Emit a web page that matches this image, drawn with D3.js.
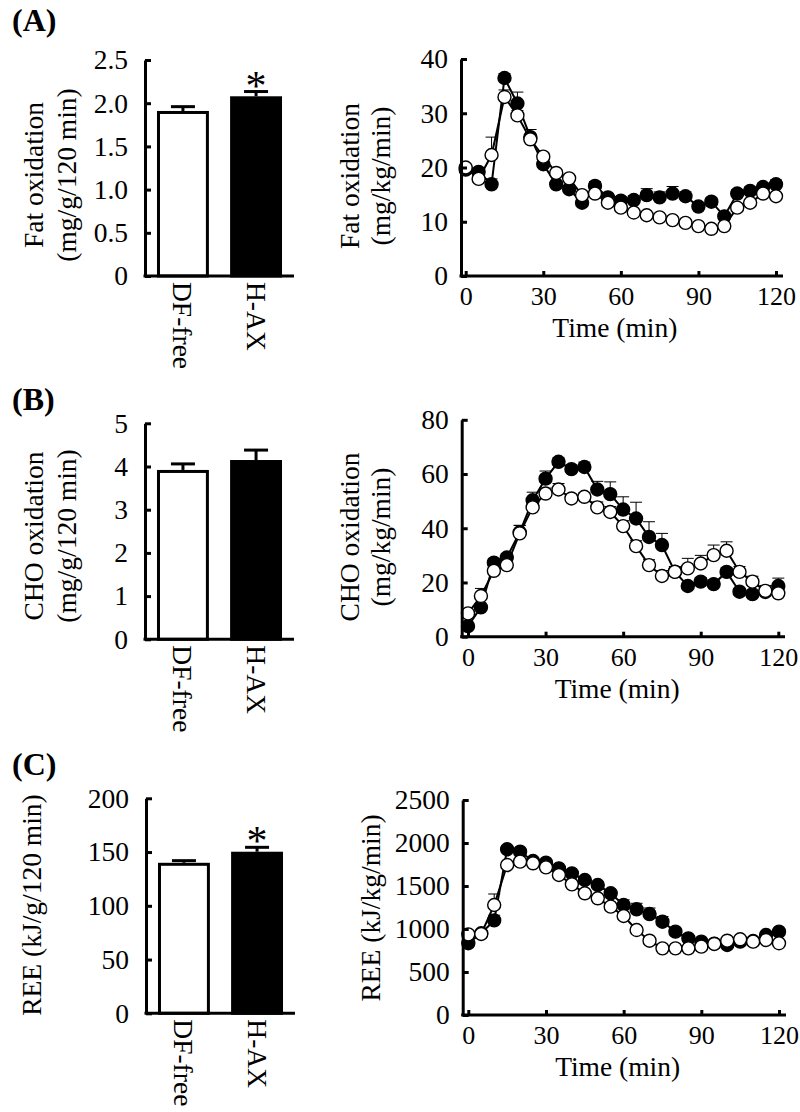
<!DOCTYPE html>
<html><head><meta charset="utf-8">
<script src="https://cdn.jsdelivr.net/npm/d3@7"></script>
<style>
body{margin:0;background:#fff}
svg{display:block}
text{font-family:"Liberation Serif","Times New Roman",serif;fill:#000}
</style>
</head><body><svg id="c" width="800" height="1112"></svg>
<script>
// ---------- data ----------
const groups = ["DF-free", "H-AX"];

const fatTotal = [1.91, 2.08];
const fatTotalErr = [0.05, 0.055];
const fatSig = ["", "*"];
const fatTotalTicks = [0, 0.5, 1.0, 1.5, 2.0, 2.5];
const fatTotalTickLabels = ["0", "0.5", "1.0", "1.5", "2.0", "2.5"];

const choTotal = [3.92, 4.15];
const choTotalErr = [0.14, 0.23];
const choSig = ["", ""];
const choTotalTicks = [0, 1, 2, 3, 4, 5];
const choTotalTickLabels = ["0", "1", "2", "3", "4", "5"];

const reeTotal = [140, 150.3];
const reeTotalErr = [2, 4.1];
const reeSig = ["", "*"];
const reeTotalTicks = [0, 50, 100, 150, 200];
const reeTotalTickLabels = ["0", "50", "100", "150", "200"];

const time = [0,5,10,15,20,25,30,35,40,45,50,55,60,65,70,75,80,85,90,95,100,105,110,115,120];
const timeTicks = [0, 30, 60, 90, 120];

const fatHAX    = [19.6,19.2,16.9,36.5,31.8,25.6,20.6,16.9,16.0,13.5,16.6,14.5,13.9,14.0,14.9,14.5,15.2,14.7,12.8,13.7,11.0,15.2,15.7,16.4,16.9];
const fatHAXErr = [0.6,0.6,1.0,0.8,2.1,1.4,0.7,0.6,0.6,0.5,0.8,0.7,0.7,0.8,1.2,1.0,1.3,0.8,0.7,0.7,0.7,0.7,0.7,0.7,0.8];
const fatDF     = [20.0,17.9,22.3,33.0,29.6,25.2,22.0,19.0,18.0,14.9,15.2,13.5,12.6,11.7,11.2,10.8,10.3,9.8,9.2,8.7,9.2,12.6,13.5,15.2,14.7];
const fatDFErr  = [0.6,0.6,3.3,1.3,0.9,1.8,0.7,0.6,0.6,0.5,0.5,0.5,0.5,0.5,0.5,0.5,0.5,0.5,0.5,0.5,0.5,0.6,0.6,0.6,0.6];
const fatTicks = [0, 10, 20, 30, 40];

const choHAX    = [3.9,10.8,27.3,29.2,38.5,50.3,58.3,64.5,61.8,62.6,54.3,52.6,46.9,43.6,36.8,33.8,24.0,18.7,20.3,19.4,23.9,16.6,15.7,16.5,18.7];
const choHAXErr = [0.5,1.0,1.5,1.5,2.5,3.0,2.8,1.5,1.5,1.8,3.0,4.5,4.7,6.0,5.6,4.3,1.5,1.2,1.5,1.5,1.5,1.2,1.2,1.2,2.9];
const choDF     = [8.6,15.0,24.3,26.4,38.1,47.7,52.8,54.3,51.0,51.6,47.7,46.0,40.8,33.4,26.4,22.4,23.9,25.2,27.0,30.1,31.7,23.9,20.3,16.9,16.0];
const choDFErr  = [0.8,2.8,1.0,1.0,3.0,2.0,2.0,2.2,1.5,1.5,2.0,2.0,2.0,2.0,2.0,2.0,2.0,3.7,3.0,3.7,3.3,2.0,2.0,2.0,1.5];
const choTicks = [0, 20, 40, 60, 80];

const reeHAX    = [834,950,1100,1927,1899,1790,1771,1705,1647,1570,1512,1415,1279,1229,1174,1085,969,891,853,830,814,853,860,930,969];
const reeHAXErr = [30,30,60,40,40,30,30,30,30,30,30,40,60,70,70,60,40,30,30,30,30,30,30,30,30];
const reeDF     = [938,942,1279,1744,1783,1764,1717,1628,1519,1415,1357,1260,1151,988,864,775,775,775,795,826,864,880,853,872,834];
const reeDFErr  = [30,30,128,30,30,30,30,30,30,30,30,30,30,30,30,30,30,30,30,30,30,30,30,30,30];
const reeTicks = [0, 500, 1000, 1500, 2000, 2500];

// ---------- drawing ----------
const svg = d3.select("#c");
svg.append("rect").attr("width", 800).attr("height", 1112).attr("fill", "#fff");
const FS = 27.5;
const TFS = 26;
const FONT = '"Liberation Serif","Times New Roman",serif';

function panelTitle(txt, x, y) {
  svg.append("text").attr("x", x).attr("y", y).attr("font-size", 32)
    .attr("font-weight", "bold").text(txt);
}

function vLabel(lines, xs, cy) {
  lines.forEach((t, i) => {
    svg.append("text")
      .attr("transform", `translate(${xs[i]},${cy}) rotate(-90)`)
      .attr("text-anchor", "middle").attr("font-size", FS).text(t);
  });
}

function styleAxis(g, fs) {
  g.attr("font-family", FONT);
  g.select(".domain").attr("stroke", "#000").attr("stroke-width", 3);
  g.selectAll(".tick line").attr("stroke", "#000").attr("stroke-width", 3);
  g.selectAll(".tick text").attr("font-size", fs)
    .attr("font-family", FONT).attr("fill", "#000");
}

function barChart(cfg) {
  const y = d3.scaleLinear().domain([0, cfg.max]).range([cfg.yBottom, cfg.yTop]);
  const x = d3.scaleBand().domain(groups).range([cfg.axisX, cfg.xEnd])
    .paddingInner(0.29).paddingOuter(0.164);
  const g = svg.append("g");
  g.selectAll("rect.bar").data(groups).join("rect")
    .attr("x", d => x(d) + 1.5)
    .attr("width", x.bandwidth() - 3)
    .attr("y", (d, i) => y(cfg.values[i]) + 1.5)
    .attr("height", (d, i) => y(0) - y(cfg.values[i]) - 1.5)
    .attr("fill", (d, i) => i === 0 ? "#fff" : "#000")
    .attr("stroke", "#000").attr("stroke-width", 3);
  groups.forEach((d, i) => {
    const cx = x(d) + x.bandwidth() / 2;
    const top = y(cfg.values[i] + cfg.errs[i]);
    g.append("line").attr("x1", cx).attr("x2", cx)
      .attr("y1", y(cfg.values[i])).attr("y2", top)
      .attr("stroke", "#000").attr("stroke-width", 3);
    g.append("line").attr("x1", cx - 12).attr("x2", cx + 12)
      .attr("y1", top).attr("y2", top)
      .attr("stroke", "#000").attr("stroke-width", 3);
    if (cfg.sig[i]) {
      g.append("text").attr("x", cx).attr("y", top + 8)
        .attr("text-anchor", "middle").attr("font-size", 42).text(cfg.sig[i]);
    }
    g.append("text")
      .attr("transform", `translate(${cx},${cfg.yBottom + 6}) rotate(90)`)
      .attr("text-anchor", "start").attr("dominant-baseline", "central")
      .attr("font-size", FS).text(d);
  });
  const ax = d3.axisLeft(y).tickValues(cfg.ticks)
    .tickFormat((d, i) => cfg.tickLabels[i]).tickSize(-6).tickSizeOuter(0).tickPadding(17);
  const ga = svg.append("g").attr("transform", `translate(${cfg.axisX},0)`).call(ax);
  styleAxis(ga, FS);
  svg.append("line").attr("x1", cfg.axisX - 1.5).attr("x2", cfg.xEnd)
    .attr("y1", y(0)).attr("y2", y(0)).attr("stroke", "#000").attr("stroke-width", 3);
}

function lineChart(cfg) {
  const x = d3.scaleLinear().domain([0, 120]).range([cfg.xa, cfg.xb]);
  const y = d3.scaleLinear().domain([0, cfg.max]).range([cfg.yBottom, cfg.yTop]);
  const g = svg.append("g");
  const series = [
    {v: cfg.hax, e: cfg.haxErr, fill: "#000"},
    {v: cfg.df, e: cfg.dfErr, fill: "#fff"}
  ];
  series.forEach(s => {
    time.forEach((t, i) => {
      const top = y(s.v[i] + s.e[i]);
      g.append("line").attr("x1", x(t)).attr("x2", x(t))
        .attr("y1", y(s.v[i])).attr("y2", top).attr("stroke", "#000").attr("stroke-width", 1);
      g.append("line").attr("x1", x(t) - 6).attr("x2", x(t) + 6)
        .attr("y1", top).attr("y2", top).attr("stroke", "#000").attr("stroke-width", 1);
    });
  });
  const line = d3.line().x((d, i) => x(time[i])).y(d => y(d));
  series.forEach(s => {
    g.append("path").datum(s.v).attr("d", line).attr("fill", "none")
      .attr("stroke", "#000").attr("stroke-width", 2);
  });
  series.forEach(s => {
    g.selectAll(null).data(s.v).join("circle")
      .attr("cx", (d, i) => x(time[i])).attr("cy", d => y(d)).attr("r", 6.5)
      .attr("fill", s.fill).attr("stroke", "#000").attr("stroke-width", 1.4);
  });
  const ay = d3.axisLeft(y).tickValues(cfg.ticks).tickFormat(d3.format("d"))
    .tickSize(-6).tickSizeOuter(0).tickPadding(13);
  const gy = svg.append("g").attr("transform", `translate(${cfg.axisX},0)`).call(ay);
  styleAxis(gy, FS);
  const axx = d3.axisBottom(x).tickValues(timeTicks).tickFormat(d3.format("d"))
    .tickSize(-5).tickSizeOuter(0).tickPadding(11);
  const gx = svg.append("g").attr("transform", `translate(0,${cfg.yBottom})`).call(axx);
  styleAxis(gx, TFS);
  gx.select(".domain").remove();
  svg.append("line").attr("x1", cfg.axisX - 1.5).attr("x2", cfg.xEnd)
    .attr("y1", cfg.yBottom).attr("y2", cfg.yBottom).attr("stroke", "#000").attr("stroke-width", 3);
  svg.append("text").attr("x", (cfg.xa + cfg.xb) / 2 - 6).attr("y", cfg.yBottom + 61)
    .attr("text-anchor", "middle").attr("font-size", FS).text("Time (min)");
}

// Panel A
panelTitle("(A)", 12, 31);
barChart({axisX: 145, xEnd: 294, yTop: 60, yBottom: 276, max: 2.5,
  ticks: fatTotalTicks, tickLabels: fatTotalTickLabels,
  values: fatTotal, errs: fatTotalErr, sig: fatSig});
vLabel(["Fat oxidation", "(mg/g/120 min)"], [43, 76], 175);
lineChart({axisX: 461, xa: 465.7, xb: 776, xEnd: 783, yTop: 59, yBottom: 276, max: 40,
  ticks: fatTicks, hax: fatHAX, haxErr: fatHAXErr, df: fatDF, dfErr: fatDFErr});
vLabel(["Fat oxidation", "(mg/kg/min)"], [359, 390], 176);

// Panel B
panelTitle("(B)", 12, 410);
barChart({axisX: 145, xEnd: 294, yTop: 423.3, yBottom: 639.3, max: 5,
  ticks: choTotalTicks, tickLabels: choTotalTickLabels,
  values: choTotal, errs: choTotalErr, sig: choSig});
vLabel(["CHO oxidation", "(mg/g/120 min)"], [43, 76], 536);
lineChart({axisX: 461.7, xa: 468, xb: 778.3, xEnd: 785, yTop: 419.8, yBottom: 636.7, max: 80,
  ticks: choTicks, hax: choHAX, haxErr: choHAXErr, df: choDF, dfErr: choDFErr});
vLabel(["CHO oxidation", "(mg/kg/min)"], [359, 390], 537);

// Panel C
panelTitle("(C)", 12, 775);
barChart({axisX: 146, xEnd: 295, yTop: 798.3, yBottom: 1013.3, max: 200,
  ticks: reeTotalTicks, tickLabels: reeTotalTickLabels,
  values: reeTotal, errs: reeTotalErr, sig: reeSig});
vLabel(["REE (kJ/g/120 min)"], [41], 905);
lineChart({axisX: 462.7, xa: 468.3, xb: 779, xEnd: 786, yTop: 800, yBottom: 1015, max: 2500,
  ticks: reeTicks, hax: reeHAX, haxErr: reeHAXErr, df: reeDF, dfErr: reeDFErr});
vLabel(["REE (kJ/kg/min)"], [380], 908);
</script>
</body></html>
